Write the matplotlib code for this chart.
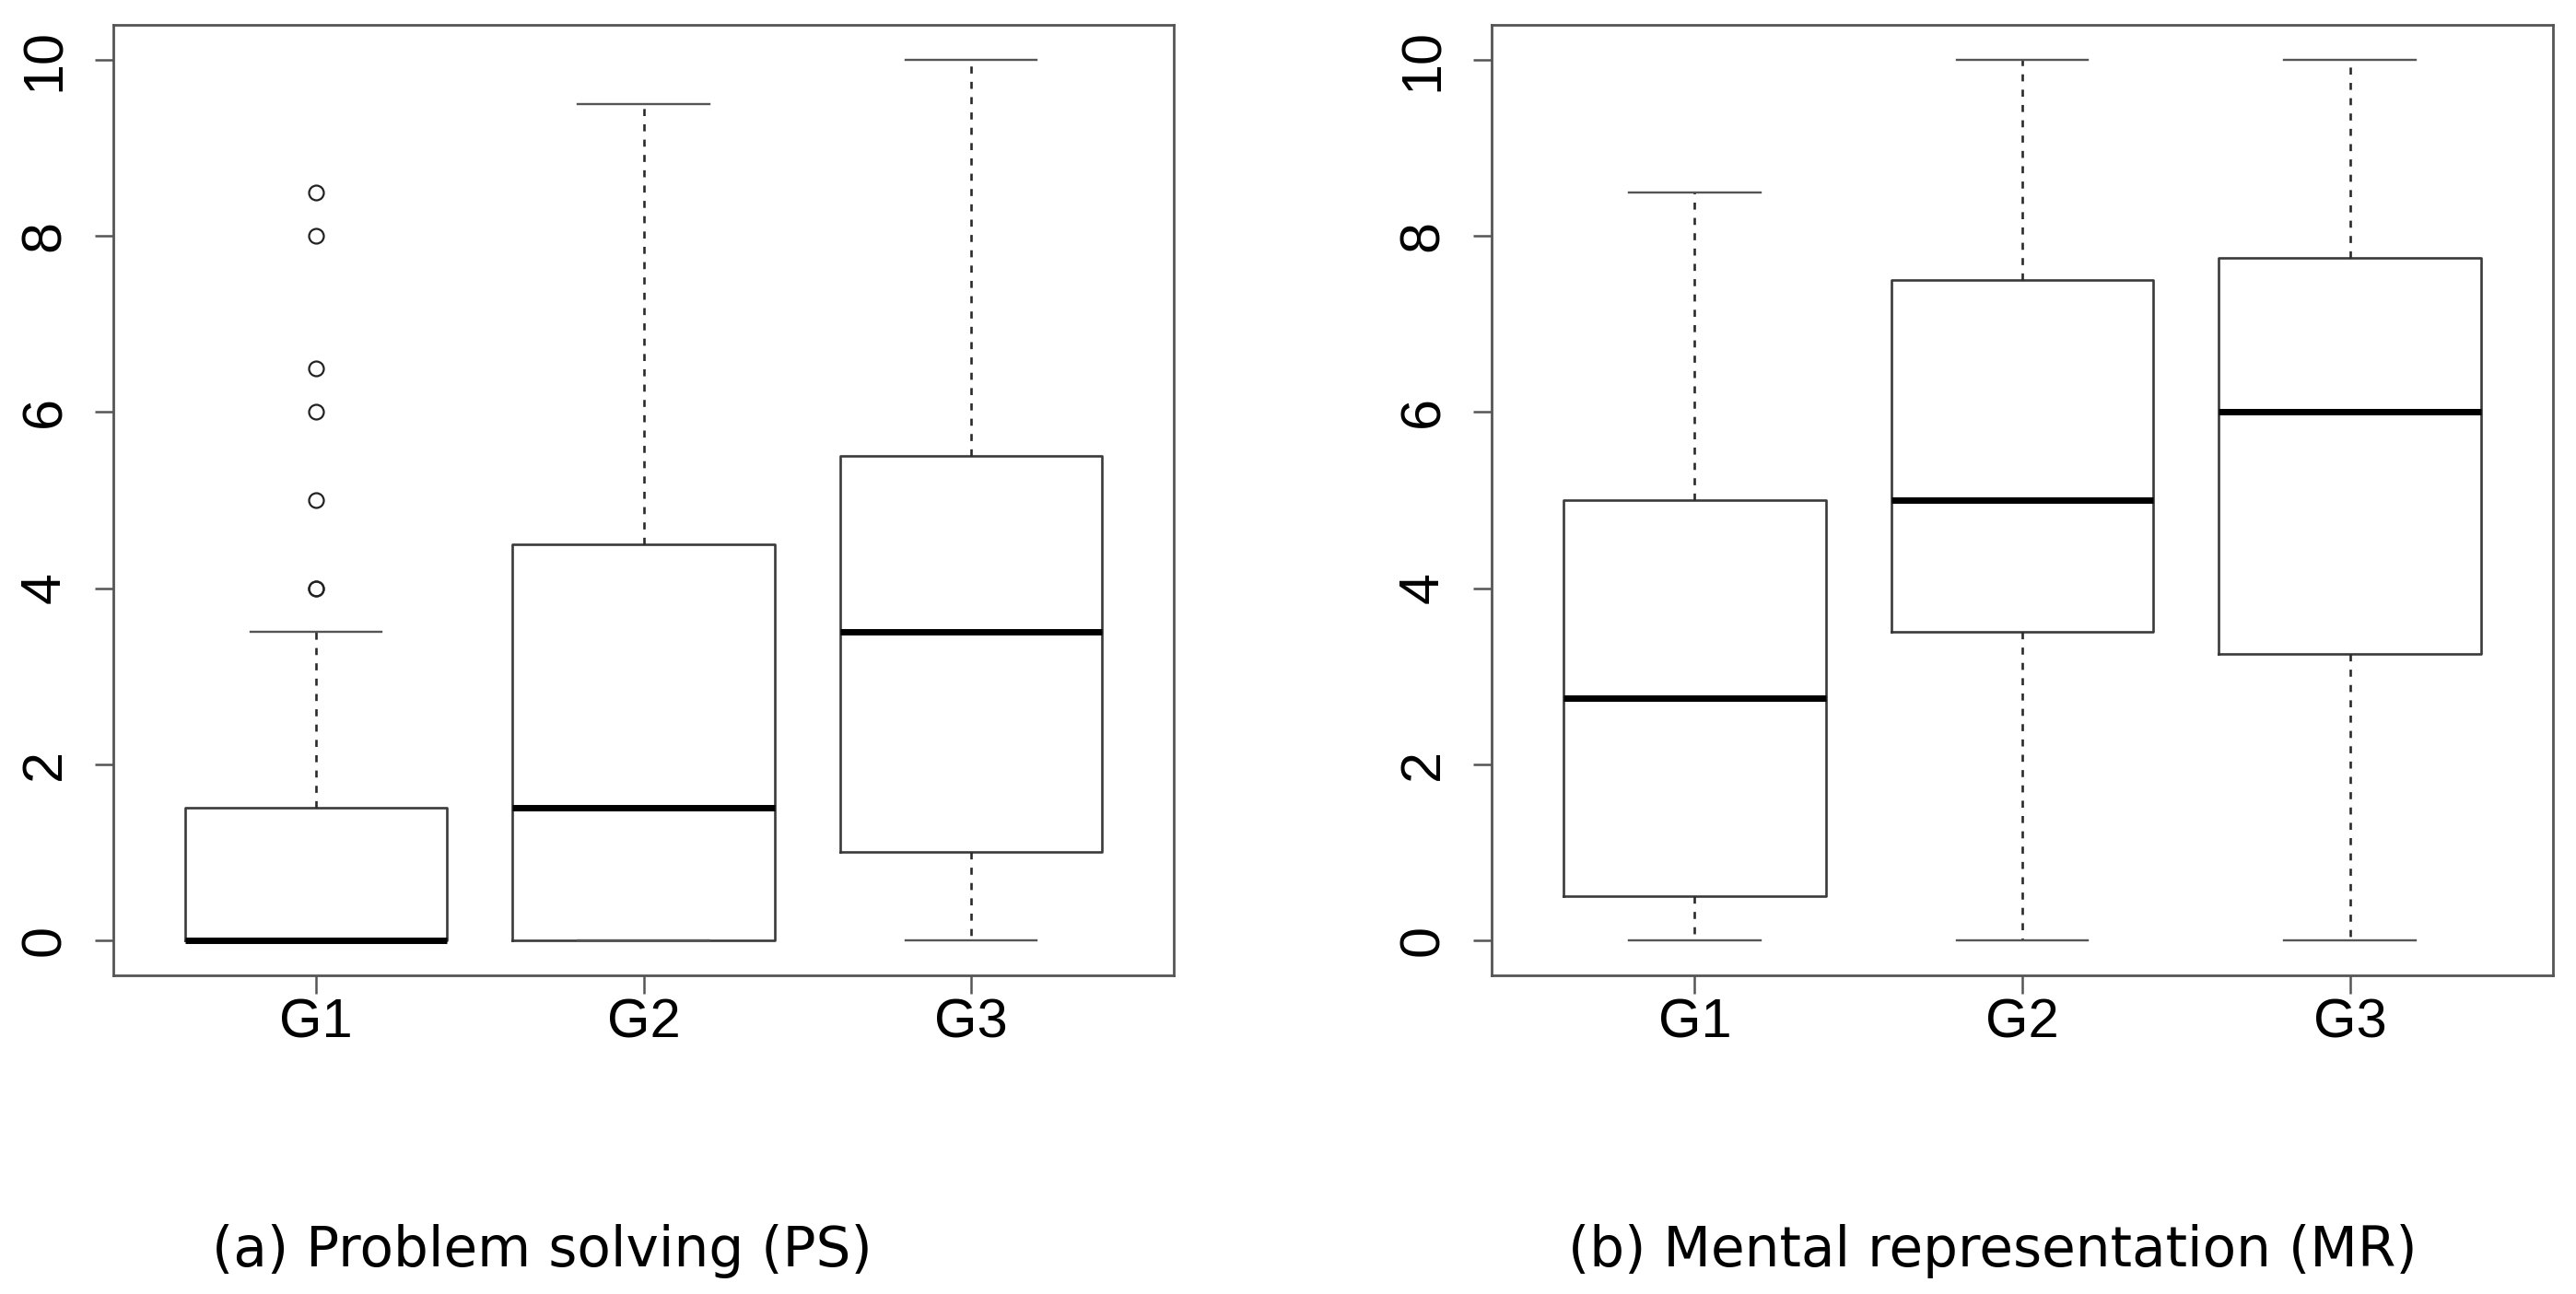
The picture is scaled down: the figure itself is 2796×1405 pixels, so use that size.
import matplotlib
matplotlib.use("Agg")
import matplotlib.pyplot as plt

groups = ["G1", "G2", "G3"]

# problem solving (PS): lower whisker, q1, median, q3, upper whisker
ps_low = [0, 0, 0]
ps_q1 = [0, 0, 1]
ps_med = [0, 1.5, 3.5]
ps_q3 = [1.5, 4.5, 5.5]
ps_high = [3.5, 9.5, 10]
ps_fliers = [[4, 4, 5, 6, 6.5, 8, 8.5], [], []]

# mental representation (MR)
mr_low = [0, 0, 0]
mr_q1 = [0.5, 3.5, 3.25]
mr_med = [2.75, 5, 6]
mr_q3 = [5, 7.5, 7.75]
mr_high = [8.5, 10, 10]
mr_fliers = [[], [], []]

yticks = [0, 2, 4, 6, 8, 10]
captions = ["(a) Problem solving (PS)", "(b) Mental representation (MR)"]

tick_font = "Liberation Sans"
cap_font = "DejaVu Sans"


def make_stats(low, q1, med, q3, high, fliers):
    stats = []
    for i in range(len(groups)):
        stats.append({"whislo": low[i], "q1": q1[i], "med": med[i],
                      "q3": q3[i], "whishi": high[i], "fliers": fliers[i],
                      "label": groups[i]})
    return stats


def draw_panel(ax, stats):
    ax.bxp(stats, positions=[1, 2, 3], widths=0.8, capwidths=0.4,
           boxprops=dict(color="#3a3a3a", linewidth=1.9),
           medianprops=dict(color="black", linewidth=5.0, solid_capstyle="butt"),
           whiskerprops=dict(color="#2a2a2a", linewidth=1.9,
                             linestyle=(0, (2.9, 3.4))),
           capprops=dict(color="#555555", linewidth=1.7),
           flierprops=dict(marker="o", markerfacecolor="none",
                           markeredgecolor="#222222", markersize=11.5,
                           markeredgewidth=1.6, linestyle="none"))
    ax.set_xlim(0.38, 3.62)
    ax.set_ylim(-0.4, 10.4)
    ax.set_yticks(yticks)
    ax.set_yticklabels([str(v) for v in yticks], rotation=90, va="center",
                       family=tick_font, fontsize=44)
    ax.set_xticks([1, 2, 3])
    ax.set_xticklabels(groups, family=tick_font, fontsize=43)
    ax.tick_params(axis="x", length=14.4, width=1.8, color="#555555", pad=3.5)
    ax.tick_params(axis="y", length=14.4, width=1.8, color="#555555", pad=18)
    for sp in ax.spines.values():
        sp.set_color("#555555")
        sp.set_linewidth(2.0)


fig = plt.figure(figsize=(27.96, 14.05), dpi=100)
ax1 = fig.add_axes([123 / 2796, 1 - 1059 / 1405, 1151 / 2796, 1032 / 1405])
ax2 = fig.add_axes([1619 / 2796, 1 - 1059 / 1405, 1152 / 2796, 1032 / 1405])

draw_panel(ax1, make_stats(ps_low, ps_q1, ps_med, ps_q3, ps_high, ps_fliers))
draw_panel(ax2, make_stats(mr_low, mr_q1, mr_med, mr_q3, mr_high, mr_fliers))

fig.text(588 / 2796, 1 - 1359 / 1405, captions[0], ha="center", va="center",
         family=cap_font, fontsize=43)
fig.text(2163 / 2796, 1 - 1359 / 1405, captions[1], ha="center", va="center",
         family=cap_font, fontsize=43)

fig.savefig("out.png", dpi=100, facecolor="white")
